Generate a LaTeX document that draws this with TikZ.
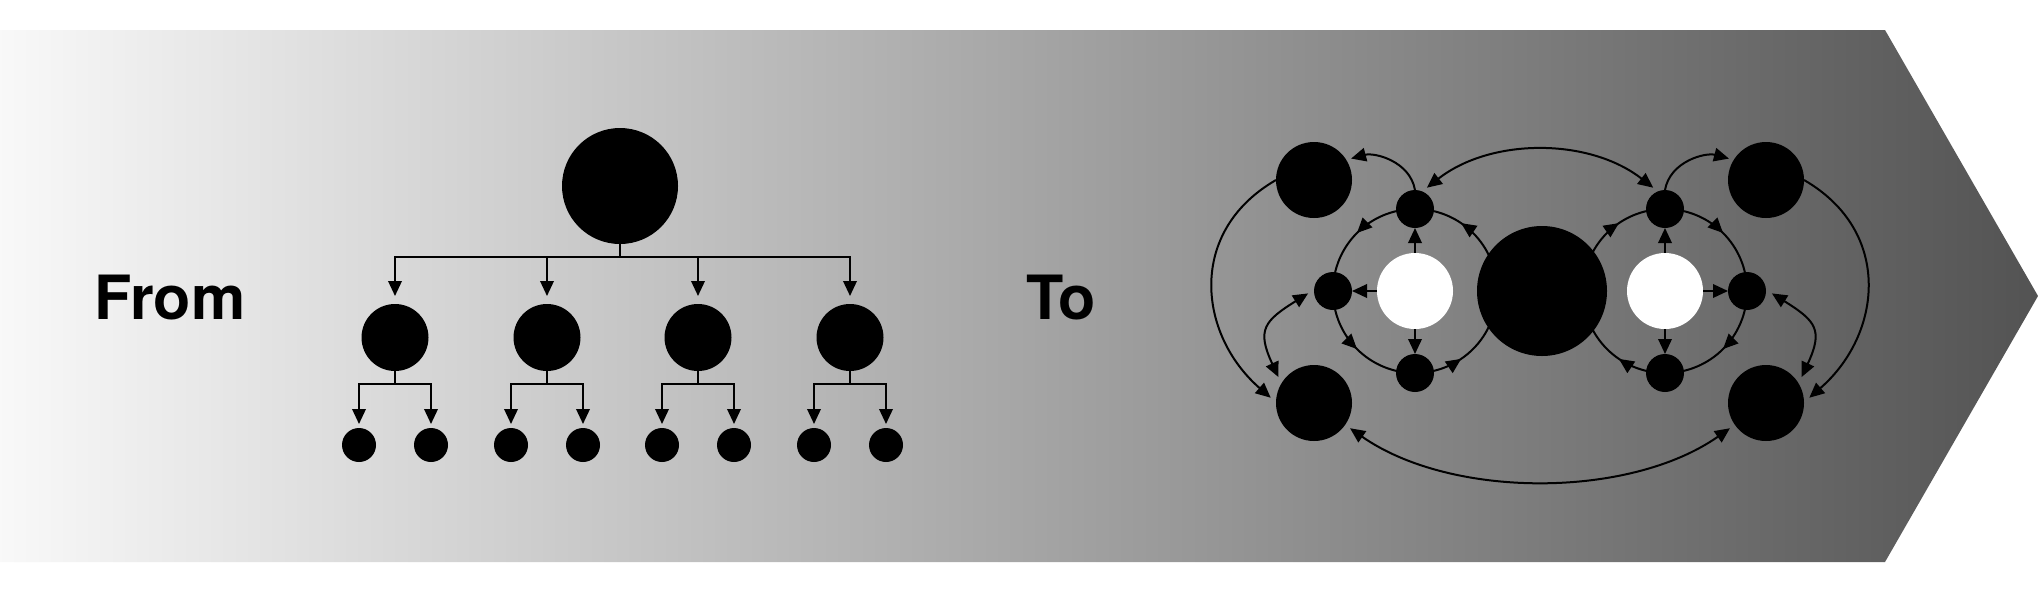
\documentclass[tikz,border=0pt]{standalone}
\usepackage{fontspec}
\setmainfont{TeX Gyre Heros}
\usetikzlibrary{arrows.meta,decorations.markings,calc,backgrounds}
\begin{document}
\begin{tikzpicture}[x=1pt,y=1pt,
  >={Triangle[length=15pt,width=13.5pt]},
  dot/.style={circle,fill=black,inner sep=0pt,outer sep=0pt,minimum size=#1},
  wdot/.style={circle,fill=white,inner sep=0pt,outer sep=0pt,minimum size=#1},
  ln/.style={line width=2pt,draw=black},
  conn/.style={ln,->},
  dconn/.style={ln,<->},
  midarr/.style={ln,postaction={decorate},decoration={markings,mark=at position #1 with {\arrow{>}}}},
  lbl/.style={font=\bfseries\fontsize{61pt}{61pt}\selectfont,inner sep=0pt,anchor=base west}
]
\useasboundingbox (0,0) rectangle (2038,-590);

% labels
\node[lbl] (from) at (94,-319) {From};
\node[lbl] (to) at (1026,-319) {To};

% ---------- hierarchy ----------
\node[dot=116pt] (T) at (620,-186) {};
\foreach \i/\x in {1/395,2/547,3/698,4/850}{
  \node[dot=67pt] (M\i) at (\x,-337.5) {};
  \node[dot=34pt] (Sa\i) at (\x-36,-445) {};
  \node[dot=34pt] (Sb\i) at (\x+36,-445) {};
  \coordinate (sub\i) at (\x,-384);
}
\coordinate (bar) at (620,-257);
\draw[ln] (T) -- (bar);
\draw[ln,line cap=rect] (bar -| M1) -- (bar -| M4);
\foreach \i in {1,2,3,4}{
  \draw[conn,shorten >=8pt] (bar -| M\i) -- (M\i);
  \draw[ln] (M\i) -- (sub\i);
  \draw[ln,line cap=rect] (sub\i -| Sa\i) -- (sub\i -| Sb\i);
  \draw[conn,shorten >=4pt] (sub\i -| Sa\i) -- (Sa\i);
  \draw[conn,shorten >=4pt] (sub\i -| Sb\i) -- (Sb\i);
}

% ---------- network ----------
\node[dot=76pt] (TL) at (1314,-180) {};
\node[dot=76pt] (BL) at (1314,-403) {};
\node[dot=76pt] (TR) at (1766,-180) {};
\node[dot=76pt] (BR) at (1766,-403) {};
\node[dot=130pt] (B) at (1542,-291) {};
\node[wdot=76pt] (W1) at (1415,-291) {};
\node[wdot=76pt] (W2) at (1665,-291) {};
\node[dot=38pt] (lt) at (1415,-209) {};
\node[dot=38pt] (ll) at (1333,-291) {};
\node[dot=38pt] (lb) at (1415,-373) {};
\node[dot=38pt] (rt) at (1665,-209) {};
\node[dot=38pt] (rr) at (1747,-291) {};
\node[dot=38pt] (rb) at (1665,-373) {};
\coordinate (e1) at ($(W1)+(82,0)$);
\coordinate (e2) at ($(W2)+(-82,0)$);

% spokes
\draw[conn] (W1) -- (lt);
\draw[conn] (W1) -- (ll);
\draw[conn] (W1) -- (lb);
\draw[conn] (W2) -- (rt);
\draw[conn] (W2) -- (rr);
\draw[conn] (W2) -- (rb);

% outer links
\draw[conn,shorten >=5pt] (lt.north) to[out=100,in=15] (TL.32);
\draw[conn,shorten >=5pt] (rt.north) to[out=80,in=165] (TR.148);
\draw[dconn,shorten <=6pt,shorten >=6pt] (lt.68) to[out=38,in=142,looseness=0.95] (rt.112);
\draw[dconn,shorten <=6pt,shorten >=6pt] (BL.-35) to[out=-35,in=-145,looseness=0.85] (BR.-145);
\draw[dconn,shorten <=7pt,shorten >=7pt] (ll.176) to[out=212,in=115,looseness=1.52] (BL.149);
\draw[dconn,shorten <=7pt,shorten >=7pt] (rr.4) to[out=-32,in=65,looseness=1.52] (BR.31);
\draw[conn,shorten >=7pt] (TL.180) to[out=210,in=139,looseness=1.19] (BL.179);
\draw[conn,shorten >=7pt] (TR.0) to[out=-30,in=41,looseness=1.19] (BR.1);

\begin{pgfonlayer}{background}
\fill[white] (0,0) rectangle (2038,-590);
\shade[left color=black!2.5,right color=black!67.5]
  (0,-30) -- (1885,-30) -- (2038,-296) -- (1885,-562) -- (0,-562) -- cycle;
% rings
\draw[midarr=0.5] (lt.center) to[out=180,in=90] (ll.center);
\draw[midarr=0.5] (ll.center) to[out=-90,in=180] (lb.center);
\draw[midarr=0.38] (lb.center) to[out=0,in=-90] (e1);
\draw[midarr=0.62] (e1) to[out=90,in=0] (lt.center);
\draw[midarr=0.5] (rt.center) to[out=0,in=90] (rr.center);
\draw[midarr=0.5] (rr.center) to[out=-90,in=0] (rb.center);
\draw[midarr=0.38] (rb.center) to[out=180,in=-90] (e2);
\draw[midarr=0.62] (e2) to[out=90,in=180] (rt.center);
\end{pgfonlayer}
\end{tikzpicture}
\end{document}
